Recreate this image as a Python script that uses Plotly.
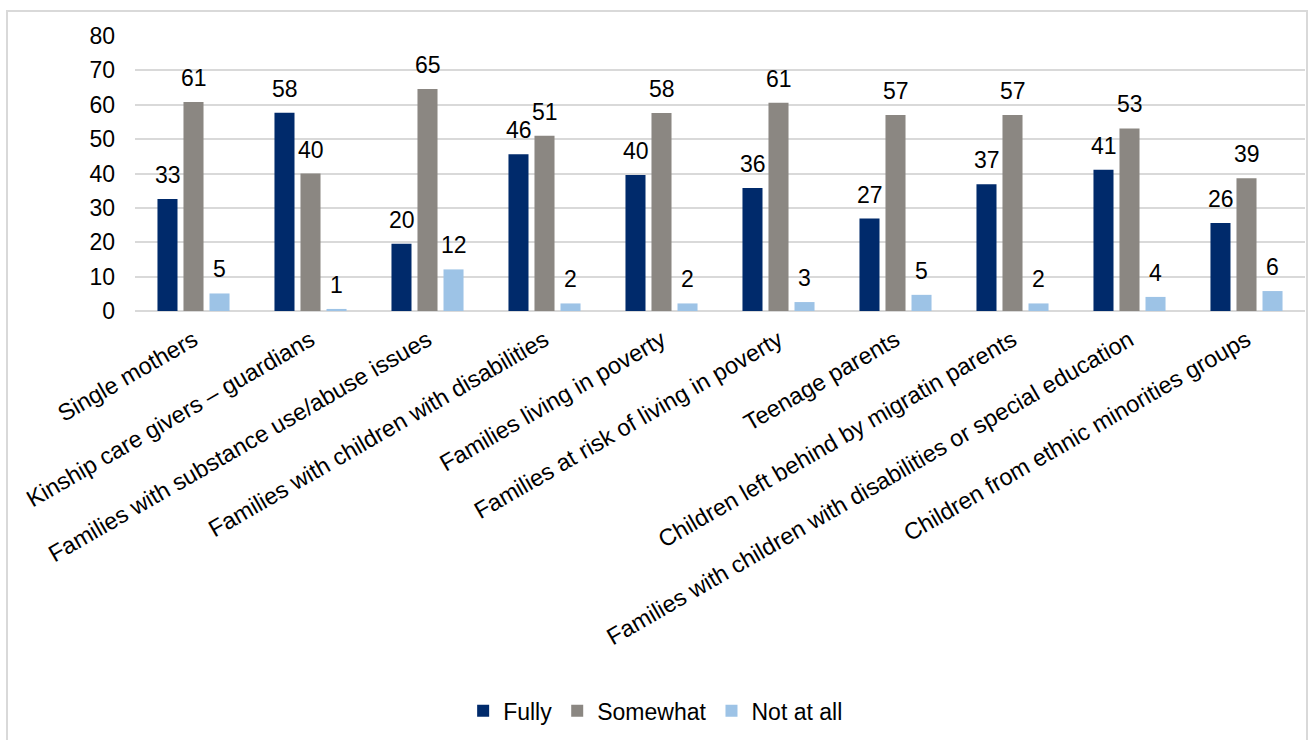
import plotly.graph_objects as go

categories = [
    "Single mothers",
    "Kinship care givers – guardians",
    "Families with substance use/abuse issues",
    "Families with children with disabilities",
    "Families living in poverty",
    "Families at risk of living in poverty",
    "Teenage parents",
    "Children left behind by migratin parents",
    "Families with children with disabilities or special education",
    "Children from ethnic minorities groups",
]
fully = [32.6, 57.7, 19.6, 45.6, 39.6, 35.8, 26.9, 36.9, 41.1, 25.6]
somewhat = [60.8, 40.0, 64.6, 51.0, 57.6, 60.6, 57.0, 57.0, 53.1, 38.6]
not_at_all = [5.1, 0.6, 12.1, 2.2, 2.2, 2.6, 4.7, 2.2, 4.1, 5.8]
series_names = ["Fully", "Somewhat", "Not at all"]
y_ticks = [0, 10, 20, 30, 40, 50, 60, 70, 80]

colors = ["#002A6B", "#8B8782", "#9DC3E6"]
FONT = "Liberation Sans, Arial, sans-serif"

fig = go.Figure()
all_series = [fully, somewhat, not_at_all]
for name, vals, col in zip(series_names, all_series, colors):
    fig.add_trace(go.Bar(x=categories, y=vals, name=name, marker_color=col,
                         marker_line_width=0))

# data labels as annotations above each bar
slot = 26
for i, vals in enumerate(all_series):
    for cat, v in zip(categories, vals):
        fig.add_annotation(x=cat, y=v, text=f"{round(v + 1e-9):d}", showarrow=False,
                           xref="x", yref="y", xshift=(i - 1) * slot, yshift=9,
                           yanchor="bottom", xanchor="center",
                           font=dict(family=FONT, size=23, color="#000000"))

# outer border
fig.add_shape(type="rect", xref="paper", yref="paper",
              x0=-0.1094, x1=1.0017, y0=-1.7, y1=1.0907,
              line=dict(color="#D9D9D9", width=2), fillcolor="rgba(0,0,0,0)",
              layer="below")

fig.update_layout(
    width=1310, height=740, autosize=False,
    margin=dict(l=135, r=5, t=36, b=429),
    barmode="group", bargap=0.333, bargroupgap=0.23,
    plot_bgcolor="white", paper_bgcolor="white",
    font=dict(family=FONT, size=23, color="#000000"),
    showlegend=True,
    legend=dict(orientation="h", x=0.445, xanchor="center", y=-1.4537, yanchor="middle",
                font=dict(family=FONT, size=23, color="#000000"),
                itemwidth=30, traceorder="normal"),
    xaxis=dict(tickangle=-30, automargin=False, showgrid=False, showline=False,
               ticks="", ticklabelstandoff=10,
               tickfont=dict(family=FONT, size=23.5, color="#000000")),
    yaxis=dict(range=[0, 80], tickvals=y_ticks, showgrid=True, gridcolor="#D9D9D9",
               gridwidth=1.5, zeroline=True, zerolinecolor="#D9D9D9", zerolinewidth=1.5,
               showline=False, ticks="", ticklabelstandoff=19, automargin=False,
               tickfont=dict(family=FONT, size=23, color="#000000")),
)

fig.write_html("out.html")
